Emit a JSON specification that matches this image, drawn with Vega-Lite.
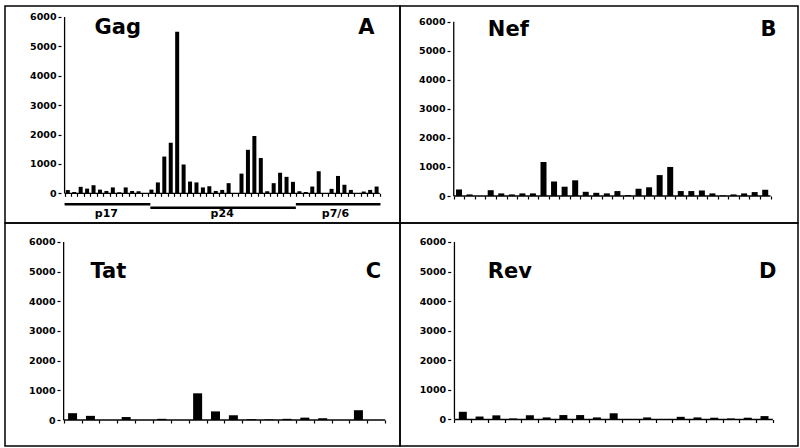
{
  "$schema": "https://vega.github.io/schema/vega-lite/v6.json",
  "background": "white",
  "padding": {"left": 4, "top": 5, "right": 0, "bottom": 0},
  "columns": 2,
  "spacing": 0,
  "align": "each",
  "bounds": "flush",
  "config": {
    "view": {"stroke": "black", "strokeWidth": 1.5},
    "axis": {"labelFont": "DejaVu Sans", "labelFontWeight": "bold", "labelFontSize": 9.5, "labelColor": "black", "tickColor": "black", "tickWidth": 1.2, "domain": false, "grid": false, "zindex": 2},
    "text": {"font": "DejaVu Sans", "fontWeight": "bold", "color": "black"}
  },
  "datasets": {
    "gag": [
      {"pos":0,"v":110},{"pos":1,"v":45},{"pos":2,"v":220},{"pos":3,"v":160},{"pos":4,"v":275},{"pos":5,"v":125},{"pos":6,"v":80},{"pos":7,"v":200},{"pos":8,"v":35},{"pos":9,"v":200},
      {"pos":10,"v":80},{"pos":11,"v":70},{"pos":12,"v":0},{"pos":13,"v":125},{"pos":14,"v":370},{"pos":15,"v":1250},{"pos":16,"v":1720},{"pos":17,"v":5500},{"pos":18,"v":980},{"pos":19,"v":400},
      {"pos":20,"v":370},{"pos":21,"v":200},{"pos":22,"v":240},{"pos":23,"v":80},{"pos":24,"v":115},{"pos":25,"v":345},{"pos":26,"v":0},{"pos":27,"v":670},{"pos":28,"v":1480},{"pos":29,"v":1950},
      {"pos":30,"v":1200},{"pos":31,"v":70},{"pos":32,"v":345},{"pos":33,"v":700},{"pos":34,"v":560},{"pos":35,"v":390},{"pos":36,"v":70},{"pos":37,"v":45},{"pos":38,"v":230},{"pos":39,"v":750},
      {"pos":40,"v":0},{"pos":41,"v":150},{"pos":42,"v":590},{"pos":43,"v":290},{"pos":44,"v":115},{"pos":45,"v":10},{"pos":46,"v":60},{"pos":47,"v":115},{"pos":48,"v":230}
    ],
    "nef": [
      {"pos":0,"v":225},{"pos":1,"v":55},{"pos":2,"v":0},{"pos":3,"v":200},{"pos":4,"v":90},{"pos":5,"v":55},{"pos":6,"v":90},{"pos":7,"v":90},{"pos":8,"v":1170},{"pos":9,"v":500},
      {"pos":10,"v":320},{"pos":11,"v":540},{"pos":12,"v":145},{"pos":13,"v":110},{"pos":14,"v":90},{"pos":15,"v":170},{"pos":16,"v":35},{"pos":17,"v":250},{"pos":18,"v":300},{"pos":19,"v":720},
      {"pos":20,"v":1000},{"pos":21,"v":170},{"pos":22,"v":170},{"pos":23,"v":190},{"pos":24,"v":90},{"pos":25,"v":20},{"pos":26,"v":55},{"pos":27,"v":90},{"pos":28,"v":135},{"pos":29,"v":215}
    ],
    "tat": [
      {"pos":0,"v":230},{"pos":1,"v":140},{"pos":2,"v":0},{"pos":3,"v":100},{"pos":4,"v":0},{"pos":5,"v":40},{"pos":6,"v":0},{"pos":7,"v":900},{"pos":8,"v":290},
      {"pos":9,"v":160},{"pos":10,"v":30},{"pos":11,"v":20},{"pos":12,"v":40},{"pos":13,"v":80},{"pos":14,"v":60},{"pos":15,"v":0},{"pos":16,"v":330},{"pos":17,"v":0}
    ],
    "rev": [
      {"pos":0,"v":260},{"pos":1,"v":100},{"pos":2,"v":140},{"pos":3,"v":35},{"pos":4,"v":140},{"pos":5,"v":70},{"pos":6,"v":150},{"pos":7,"v":150},{"pos":8,"v":70},{"pos":9,"v":210},
      {"pos":10,"v":0},{"pos":11,"v":70},{"pos":12,"v":0},{"pos":13,"v":90},{"pos":14,"v":70},{"pos":15,"v":60},{"pos":16,"v":35},{"pos":17,"v":60},{"pos":18,"v":115}
    ],
    "regions": [
      {"region":"p17","start":-0.5,"end":12.83,"center":6.0},
      {"region":"p24","start":12.83,"end":35.45,"center":24.0},
      {"region":"p7/6","start":35.45,"end":48.6,"center":41.6}
    ]
  },
  "concat": [
    {
      "width": 395, "height": 217,
      "encoding": {
        "x": {"type": "quantitative", "scale": {"domain": [-8.985, 50.86], "nice": false, "zero": false},
              "axis": {"orient": "bottom", "offset": -29.7, "labels": false, "tickSize": 3, "title": null,
                       "values": [-0.5,0.5,1.5,2.5,3.5,4.5,5.5,6.5,7.5,8.5,9.5,10.5,11.5,12.5,13.5,14.5,15.5,16.5,17.5,18.5,19.5,20.5,21.5,22.5,23.5,24.5,25.5,26.5,27.5,28.5,29.5,30.5,31.5,32.5,33.5,34.5,35.5,36.5,37.5,38.5,39.5,40.5,41.5,42.5,43.5,44.5,45.5,46.5,47.5,48.5]}},
        "y": {"type": "quantitative", "scale": {"domain": [-1011, 6374], "nice": false, "zero": false},
              "axis": {"offset": -56, "values": [0,1000,2000,3000,4000,5000,6000], "format": "d", "tickSize": 3, "labelPadding": 2, "title": null}}
      },
      "layer": [
        {
          "data": {"name": "gag"},
          "mark": {"type": "bar", "size": 4, "color": "black", "orient": "vertical"},
          "encoding": {"x": {"field": "pos"}, "y": {"field": "v"}, "y2": {"datum": 0}}
        },
        {
          "data": {"values": [{}]},
          "mark": {"type": "rule", "color": "black", "strokeWidth": 1.3},
          "encoding": {"x": {"datum": -0.5}, "y": {"datum": 0}, "y2": {"datum": 6000}}
        },
        {
          "data": {"values": [{}]},
          "mark": {"type": "rule", "color": "black", "strokeWidth": 1.3},
          "encoding": {"x": {"datum": -0.5}, "x2": {"datum": 48.5}, "y": {"datum": 0}}
        },
        {
          "data": {"name": "regions"},
          "transform": [{"filter": "datum.region !== 'p24'"}],
          "mark": {"type": "rule", "color": "black", "strokeWidth": 2.5},
          "encoding": {"x": {"field": "start"}, "x2": {"field": "end"}, "y": {"datum": -370}}
        },
        {
          "data": {"name": "regions"},
          "transform": [{"filter": "datum.region === 'p24'"}],
          "mark": {"type": "rule", "color": "black", "strokeWidth": 2.5},
          "encoding": {"x": {"field": "start"}, "x2": {"field": "end"}, "y": {"datum": -490}}
        },
        {
          "data": {"name": "regions"},
          "mark": {"type": "text", "fontSize": 11, "align": "center", "baseline": "alphabetic"},
          "encoding": {"x": {"field": "center"}, "y": {"datum": -806}, "text": {"field": "region"}}
        },
        {
          "data": {"values": [{"name": "Gag", "letter": "A"}]},
          "mark": {"type": "text", "fontSize": 21, "align": "left", "baseline": "alphabetic"},
          "encoding": {"x": {"datum": 4.15}, "y": {"datum": 5421}, "text": {"field": "name"}}
        },
        {
          "data": {"values": [{"name": "Gag", "letter": "A"}]},
          "mark": {"type": "text", "fontSize": 21, "align": "right", "baseline": "alphabetic"},
          "encoding": {"x": {"datum": 47.68}, "y": {"datum": 5421}, "text": {"field": "letter"}}
        }
      ]
    },
    {
      "width": 398, "height": 217,
      "encoding": {
        "x": {"type": "quantitative", "scale": {"domain": [-5.117, 31.63], "nice": false, "zero": false},
              "axis": {"orient": "bottom", "offset": -27, "labels": false, "tickSize": 3, "title": null,
                       "values": [-0.5,0.5,1.5,2.5,3.5,4.5,5.5,6.5,7.5,8.5,9.5,10.5,11.5,12.5,13.5,14.5,15.5,16.5,17.5,18.5,19.5,20.5,21.5,22.5,23.5,24.5,25.5,26.5,27.5,28.5,29.5]}},
        "y": {"type": "quantitative", "scale": {"domain": [-929, 6540], "nice": false, "zero": false},
              "axis": {"offset": -50, "values": [0,1000,2000,3000,4000,5000,6000], "format": "d", "tickSize": 3, "labelPadding": 2, "title": null}}
      },
      "layer": [
        {
          "data": {"name": "nef"},
          "mark": {"type": "bar", "size": 6, "color": "black", "orient": "vertical"},
          "encoding": {"x": {"field": "pos"}, "y": {"field": "v"}, "y2": {"datum": 0}}
        },
        {
          "data": {"values": [{}]},
          "mark": {"type": "rule", "color": "black", "strokeWidth": 1.3},
          "encoding": {"x": {"datum": -0.5}, "y": {"datum": 0}, "y2": {"datum": 6000}}
        },
        {
          "data": {"values": [{}]},
          "mark": {"type": "rule", "color": "black", "strokeWidth": 1.3},
          "encoding": {"x": {"datum": -0.5}, "x2": {"datum": 29.5}, "y": {"datum": 0}}
        },
        {
          "data": {"values": [{"name": "Nef", "letter": "B"}]},
          "mark": {"type": "text", "fontSize": 21, "align": "left", "baseline": "alphabetic"},
          "encoding": {"x": {"datum": 2.73}, "y": {"datum": 5507}, "text": {"field": "name"}}
        },
        {
          "data": {"values": [{"name": "Nef", "letter": "B"}]},
          "mark": {"type": "text", "fontSize": 21, "align": "right", "baseline": "alphabetic"},
          "encoding": {"x": {"datum": 30.06}, "y": {"datum": 5507}, "text": {"field": "letter"}}
        }
      ]
    },
    {
      "width": 395, "height": 223,
      "encoding": {
        "x": {"type": "quantitative", "scale": {"domain": [-3.502, 18.047], "nice": false, "zero": false},
              "axis": {"orient": "bottom", "offset": -26, "labels": false, "tickSize": 3, "title": null,
                       "values": [-0.5,0.5,1.5,2.5,3.5,4.5,5.5,6.5,7.5,8.5,9.5,10.5,11.5,12.5,13.5,14.5,15.5,16.5,17.5]}},
        "y": {"type": "quantitative", "scale": {"domain": [-876, 6640], "nice": false, "zero": false},
              "axis": {"offset": -55, "values": [0,1000,2000,3000,4000,5000,6000], "format": "d", "tickSize": 3, "labelPadding": 2, "title": null}}
      },
      "layer": [
        {
          "data": {"name": "tat"},
          "mark": {"type": "bar", "size": 9, "color": "black", "orient": "vertical"},
          "encoding": {"x": {"field": "pos"}, "y": {"field": "v"}, "y2": {"datum": 0}}
        },
        {
          "data": {"values": [{}]},
          "mark": {"type": "rule", "color": "black", "strokeWidth": 1.3},
          "encoding": {"x": {"datum": -0.5}, "y": {"datum": 0}, "y2": {"datum": 6000}}
        },
        {
          "data": {"values": [{}]},
          "mark": {"type": "rule", "color": "black", "strokeWidth": 1.3},
          "encoding": {"x": {"datum": -0.5}, "x2": {"datum": 17.5}, "y": {"datum": 0}}
        },
        {
          "data": {"values": [{"name": "Tat", "letter": "C"}]},
          "mark": {"type": "text", "fontSize": 21, "align": "left", "baseline": "alphabetic"},
          "encoding": {"x": {"datum": 1.0}, "y": {"datum": 4787}, "text": {"field": "name"}}
        },
        {
          "data": {"values": [{"name": "Tat", "letter": "C"}]},
          "mark": {"type": "text", "fontSize": 21, "align": "right", "baseline": "alphabetic"},
          "encoding": {"x": {"datum": 17.28}, "y": {"datum": 4787}, "text": {"field": "letter"}}
        }
      ]
    },
    {
      "width": 398, "height": 223,
      "encoding": {
        "x": {"type": "quantitative", "scale": {"domain": [-3.45, 19.70], "nice": false, "zero": false},
              "axis": {"orient": "bottom", "offset": -26.5, "labels": false, "tickSize": 3, "title": null,
                       "values": [-0.5,0.5,1.5,2.5,3.5,4.5,5.5,6.5,7.5,8.5,9.5,10.5,11.5,12.5,13.5,14.5,15.5,16.5,17.5,18.5]}},
        "y": {"type": "quantitative", "scale": {"domain": [-896, 6642], "nice": false, "zero": false},
              "axis": {"offset": -50.7, "values": [0,1000,2000,3000,4000,5000,6000], "format": "d", "tickSize": 3, "labelPadding": 2, "title": null}}
      },
      "layer": [
        {
          "data": {"name": "rev"},
          "mark": {"type": "bar", "size": 8, "color": "black", "orient": "vertical"},
          "encoding": {"x": {"field": "pos"}, "y": {"field": "v"}, "y2": {"datum": 0}}
        },
        {
          "data": {"values": [{}]},
          "mark": {"type": "rule", "color": "black", "strokeWidth": 1.3},
          "encoding": {"x": {"datum": -0.5}, "y": {"datum": 0}, "y2": {"datum": 6000}}
        },
        {
          "data": {"values": [{}]},
          "mark": {"type": "rule", "color": "black", "strokeWidth": 1.3},
          "encoding": {"x": {"datum": -0.5}, "x2": {"datum": 18.5}, "y": {"datum": 0}}
        },
        {
          "data": {"values": [{"name": "Rev", "letter": "D"}]},
          "mark": {"type": "text", "fontSize": 21, "align": "left", "baseline": "alphabetic"},
          "encoding": {"x": {"datum": 1.49}, "y": {"datum": 4783}, "text": {"field": "name"}}
        },
        {
          "data": {"values": [{"name": "Rev", "letter": "D"}]},
          "mark": {"type": "text", "fontSize": 21, "align": "right", "baseline": "alphabetic"},
          "encoding": {"x": {"datum": 18.71}, "y": {"datum": 4783}, "text": {"field": "letter"}}
        }
      ]
    }
  ]
}
